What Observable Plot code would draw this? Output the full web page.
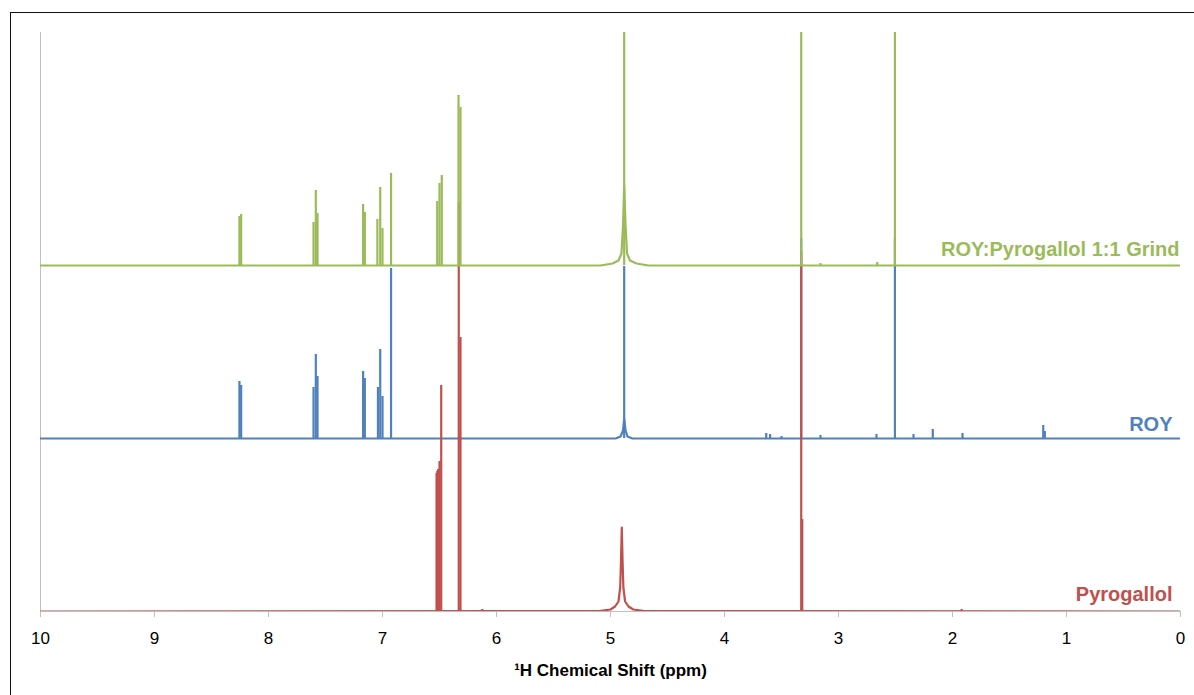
<!DOCTYPE html>
<html>
<head>
<meta charset="utf-8">
<script src="https://cdn.jsdelivr.net/npm/d3@7"></script>
<script src="https://cdn.jsdelivr.net/npm/@observablehq/plot@0.6"></script>
<style>
  html, body { margin: 0; padding: 0; background: #fff; overflow: hidden; }
  #wrap { position: relative; width: 1194px; height: 695px; overflow: hidden; }
  #frame { position: absolute; left: 10px; top: 12px; width: 1200px; height: 720px; border: 1.5px solid #111; box-sizing: border-box; }
  #chart { position: absolute; left: 0; top: 0; }
</style>
</head>
<body>
<div id="wrap"><div id="frame"></div><div id="chart"></div></div>
<script>
// ---- Data ----
const ppmTicks = [10, 9, 8, 7, 6, 5, 4, 3, 2, 1, 0];
const seriesNames = ["Pyrogallol", "ROY", "ROY:Pyrogallol 1:1 Grind"];
const axisTitle = "¹H Chemical Shift (ppm)";

// Pyrogallol: sharp lines (ppm, intensity a.u.)
const pyroPeakPpm = [6.526, 6.520, 6.512, 6.500, 6.485, 6.331, 6.316, 3.327, 3.318, 6.125, 1.92];
const pyroPeakInt = [138, 140, 142, 150, 226, 409, 274, 360, 92, 2, 2];
// Pyrogallol: broad OH signal profile
const pyroBroadPpm = [10, 5.10, 5.00, 4.96, 4.93, 4.915, 4.908, 4.901, 4.894, 4.887, 4.872, 4.842, 4.80, 4.70, 0];
const pyroBroadInt = [0, 0.5, 2, 5, 10, 24, 50, 84, 50, 24, 10, 5, 2, 0.5, 0];

// ROY: sharp lines
const royPeakPpm = [8.255, 8.240, 7.605, 7.585, 7.570, 7.170, 7.155, 7.040, 7.020, 7.000, 6.925,
                    4.880, 3.327, 2.505, 3.634, 3.600, 3.500, 3.158, 2.667, 2.342, 2.173, 1.912, 1.204, 1.190];
const royPeakInt = [57, 53, 51, 84, 62, 67, 60, 51, 89, 42, 170,
                    172, 200, 200, 5, 4, 2, 3, 4, 4, 9, 5, 13, 7];
// ROY: water signal profile
const royBroadPpm = [10, 4.956, 4.912, 4.890, 4.880, 4.868, 4.851, 4.807, 0];
const royBroadInt = [0, 0, 2, 8, 20, 8, 2, 0, 0];

// Grind: sharp lines
const grindPeakPpm = [8.255, 8.240, 7.605, 7.585, 7.570, 7.170, 7.155, 7.045, 7.020, 7.000, 6.925,
                      6.520, 6.500, 6.480, 6.333, 6.316, 4.880, 3.327, 2.505, 3.158, 2.660];
const grindPeakInt = [49, 51, 43, 75, 52, 61, 53, 46, 78, 37, 92,
                      64, 82, 90, 170, 158, 300, 300, 300, 2, 3];
// Grind: water signal profile
const grindBroadPpm = [10, 5.088, 4.982, 4.930, 4.904, 4.890, 4.880, 4.868, 4.855, 4.829, 4.772, 4.667, 0];
const grindBroadInt = [0, 0, 2, 5, 12, 40, 80, 40, 12, 5, 2, 0, 0];

// ---- Build tables ----
const stackStep = 173;
function table(ppm, inten, k) {
  return ppm.map((p, i) => ({ppm: p, base: k * stackStep, top: k * stackStep + inten[i], series: seriesNames[k]}));
}
const pyroPeaks = table(pyroPeakPpm, pyroPeakInt, 0);
const pyroLine = table(pyroBroadPpm, pyroBroadInt, 0);
const royPeaks = table(royPeakPpm, royPeakInt, 1);
const royLine = table(royBroadPpm, royBroadInt, 1);
const grindPeaks = table(grindPeakPpm, grindPeakInt, 2);
const grindLine = table(grindBroadPpm, grindBroadInt, 2);

const red = "#C0504D", blue = "#4F81BD", green = "#9BBB59";
const font = "'Liberation Sans', Arial, sans-serif";
const lw = 2.2, rw = 2.2;

const plot = Plot.plot({
  width: 1194,
  height: 695,
  marginLeft: 40,
  marginRight: 14,
  marginTop: 32,
  marginBottom: 84,
  style: {fontFamily: font, background: "transparent", color: "#000"},
  x: {domain: [10, 0], axis: null},
  y: {domain: [0, 579], axis: null},
  marks: [
    Plot.ruleX([10], {stroke: "#bfbfbf", strokeWidth: 1}),
    Plot.ruleY([0], {stroke: "#bfbfbf", strokeWidth: 1}),
    Plot.axisX(ppmTicks, {tickSize: 6, tickPadding: 14, stroke: "#bfbfbf", fill: "#000", fontSize: 17, tickFormat: d => String(d), label: null}),
    // ROY
    Plot.line(royLine, {x: "ppm", y: "top", stroke: blue, strokeWidth: lw, curve: "linear", clip: true}),
    Plot.ruleX(royPeaks, {x: "ppm", y1: "base", y2: "top", stroke: blue, strokeWidth: rw, clip: true}),
    // Pyrogallol
    Plot.line(pyroLine, {x: "ppm", y: "top", stroke: red, strokeWidth: lw, curve: "linear", clip: true}),
    Plot.ruleX(pyroPeaks, {x: "ppm", y1: "base", y2: "top", stroke: red, strokeWidth: rw, clip: true}),
    // Grind
    Plot.line(grindLine, {x: "ppm", y: "top", stroke: green, strokeWidth: lw, curve: "linear", clip: true}),
    Plot.ruleX(grindPeaks, {x: "ppm", y1: "base", y2: "top", stroke: green, strokeWidth: rw, clip: true}),
    // series labels
    Plot.text([seriesNames[2]], {x: 0, y: 2 * stackStep, text: d => d, textAnchor: "end", lineAnchor: "bottom", dx: -1, dy: -10, fill: green, fontSize: 20, fontWeight: "bold"}),
    Plot.text([seriesNames[1]], {x: 0, y: 1 * stackStep, text: d => d, textAnchor: "end", lineAnchor: "bottom", dx: -8, dy: -8, fill: blue, fontSize: 20, fontWeight: "bold"}),
    Plot.text([seriesNames[0]], {x: 0, y: 0, text: d => d, textAnchor: "end", lineAnchor: "bottom", dx: -8, dy: -11, fill: red, fontSize: 20, fontWeight: "bold"}),
    // axis title
    Plot.text([axisTitle], {frameAnchor: "bottom", text: d => d, lineAnchor: "bottom", dy: 64, fill: "#000", fontSize: 17, fontWeight: "bold"})
  ]
});
document.getElementById("chart").appendChild(plot);
</script>
</body>
</html>
